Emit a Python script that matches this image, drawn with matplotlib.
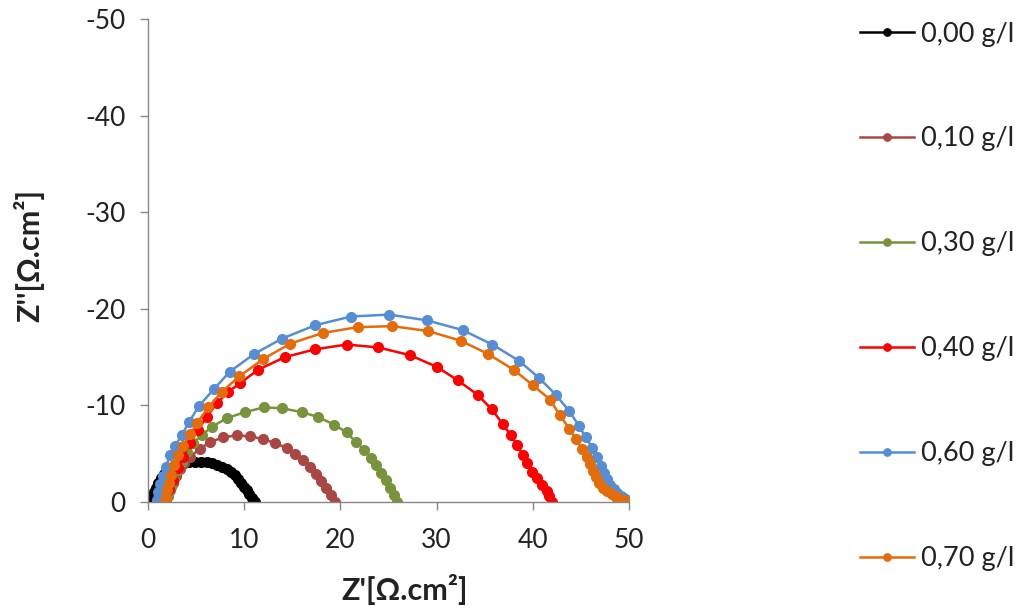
import matplotlib
matplotlib.use("Agg")
import matplotlib.pyplot as plt

plt.rcParams['font.family'] = ['Lato', 'DejaVu Sans']
plt.rcParams['axes.unicode_minus'] = False

labels = ['0,00 g/l', '0,10 g/l', '0,30 g/l', '0,40 g/l', '0,60 g/l', '0,70 g/l']
colors = ['#000000', '#AA4643', '#77933C', '#FF0000', '#558ED5', '#E46C0A']

zr_000 = [0.35, 0.45, 0.6, 0.8, 1.05, 1.35, 1.7, 2.1, 2.6, 3.1, 3.7, 4.3, 4.9, 5.5, 6.1,
          6.7, 7.2, 7.7, 8.2, 8.6, 9.0, 9.4, 9.7, 10.0, 10.3, 10.55, 10.8, 11.0, 11.1]
zi_000 = [0, -0.5, -1.0, -1.5, -2.0, -2.5, -2.9, -3.3, -3.6, -3.85, -4.0, -4.1, -4.15, -4.15, -4.1,
          -4.0, -3.85, -3.65, -3.4, -3.1, -2.8, -2.4, -2.0, -1.6, -1.2, -0.8, -0.45, -0.15, 0]

zr_010 = [1.87, 2.08, 2.29, 2.60, 2.91, 3.33, 3.74, 4.37, 5.41, 6.44, 7.83, 9.22, 10.60, 11.99,
          13.20, 14.42, 15.28, 16.14, 16.84, 17.46, 17.98, 18.50, 18.99, 19.44]
zi_010 = [0, -0.6, -1.2, -2.0, -2.7, -3.4, -4.0, -4.7, -5.5, -6.2, -6.7, -6.9, -6.8, -6.5,
          -6.1, -5.6, -5.0, -4.3, -3.6, -2.9, -2.2, -1.5, -0.7, 0]

zr_030 = [1.87, 2.08, 2.39, 2.70, 3.12, 3.53, 4.05, 4.71, 5.58, 6.65, 8.24, 10.08, 12.06, 13.98,
          15.98, 17.70, 19.37, 20.66, 21.62, 22.45, 23.15, 23.70, 24.22, 24.74, 25.16, 25.57, 25.85]
zi_030 = [0, -0.7, -1.6, -2.4, -3.3, -4.1, -5.2, -6.1, -6.9, -7.8, -8.7, -9.3, -9.8, -9.7,
          -9.3, -8.8, -8.0, -7.2, -6.2, -5.4, -4.6, -3.8, -3.0, -2.3, -1.5, -0.7, 0]

zr_040 = [1.66, 1.87, 2.18, 2.63, 3.15, 3.67, 4.37, 5.23, 6.10, 7.14, 8.35, 9.56, 11.47, 14.24,
          17.36, 20.65, 23.94, 27.23, 30.01, 32.2, 34.27, 35.73, 36.87, 37.70, 38.39, 38.95,
          39.37, 39.89, 40.40, 40.92, 41.44, 41.68, 41.96]
zi_040 = [0, -0.8, -1.4, -2.3, -3.5, -4.7, -6.1, -7.5, -8.8, -10.2, -11.4, -12.3, -13.7, -15.0,
          -15.8, -16.3, -16.0, -15.2, -14.0, -12.6, -11.1, -9.6, -8.1, -6.9, -5.9, -4.9,
          -4.0, -3.1, -2.5, -1.8, -1.1, -0.6, 0]

zr_060 = [0.94, 1.04, 1.25, 1.56, 1.87, 2.29, 2.81, 3.5, 4.29, 5.27, 6.86, 8.52, 11.0, 13.9,
          17.4, 21.1, 25.1, 29.0, 32.7, 35.8, 38.6, 40.7, 42.4, 43.8, 44.8, 45.5, 46.2, 46.7,
          47.1, 47.4, 47.7, 48.0, 48.4, 48.8, 49.2, 49.5, 49.8, 50.0]
zi_060 = [-0.2, -1.0, -1.9, -2.7, -3.6, -4.9, -5.8, -6.9, -8.3, -9.9, -11.7, -13.5, -15.3, -16.9,
          -18.3, -19.2, -19.4, -18.8, -17.8, -16.3, -14.6, -12.8, -11.1, -9.4, -7.9, -6.7, -5.6, -4.7,
          -3.7, -3.0, -2.4, -1.8, -1.3, -0.9, -0.6, -0.4, -0.2, -0.05]

zr_070 = [1.77, 1.87, 1.98, 2.18, 2.39, 2.70, 3.15, 3.67, 4.37, 5.12, 6.27, 7.66, 9.49, 11.98,
          14.8, 18.2, 21.8, 25.4, 29.1, 32.5, 35.4, 38.0, 40.0, 41.8, 42.8, 43.8, 44.5, 45.1, 45.6,
          46.0, 46.3, 46.6, 46.9, 47.3, 47.7, 48.2, 48.7, 49.2, 49.6, 50.0]
zi_070 = [0, -0.5, -1.2, -2.0, -2.8, -3.8, -4.9, -5.8, -7.0, -8.2, -9.8, -11.4, -13.0, -14.8,
          -16.4, -17.5, -18.1, -18.2, -17.7, -16.7, -15.3, -13.7, -12.1, -10.6, -9.0, -7.6, -6.5, -5.5, -4.7,
          -3.9, -3.2, -2.6, -2.0, -1.5, -1.1, -0.8, -0.5, -0.3, -0.15, -0.05]

series = [(zr_000, zi_000), (zr_010, zi_010), (zr_030, zi_030),
          (zr_040, zi_040), (zr_060, zi_060), (zr_070, zi_070)]

fig = plt.figure(figsize=(10.24, 6.1), dpi=100)
ax = fig.add_axes([0.1445, 0.177, 0.4697, 0.792])

for (zr, zi), c, lab in zip(series, colors, labels):
    ax.plot(zr, zi, color=c, lw=1.8, marker='o', ms=7, mec=c, mfc=c, label=lab)

ax.set_xlim(0, 50)
ax.set_ylim(0, -50)
ax.set_xticks([0, 10, 20, 30, 40, 50])
ax.set_yticks([0, -10, -20, -30, -40, -50])

for s in ['top', 'right']:
    ax.spines[s].set_visible(False)
for s in ['left', 'bottom']:
    ax.spines[s].set_color('#868686')
    ax.spines[s].set_linewidth(1.0)
ax.tick_params(axis='both', colors='#868686', labelcolor='#222222', labelsize=19,
               length=6, width=1.0, direction='out')
ax.tick_params(axis='x', pad=13)
ax.tick_params(axis='y', pad=10)

ax.set_xlabel("Z'[\u03a9.cm\u00b2]", fontsize=22, fontweight='bold', color='#222222')
ax.set_ylabel("Z''[\u03a9.cm\u00b2]", fontsize=22, fontweight='bold', color='#222222')
ax.xaxis.set_label_coords(0.534, -0.148)
ax.yaxis.set_label_coords(-0.215, 0.511)

leg = ax.legend(loc='upper left', bbox_to_anchor=(1.43, 1.045), frameon=False,
                fontsize=19.5, labelspacing=2.95, handlelength=2.0, handletextpad=0.25,
                markerscale=0.75, labelcolor='#222222')

fig.savefig('out.png', dpi=100)
